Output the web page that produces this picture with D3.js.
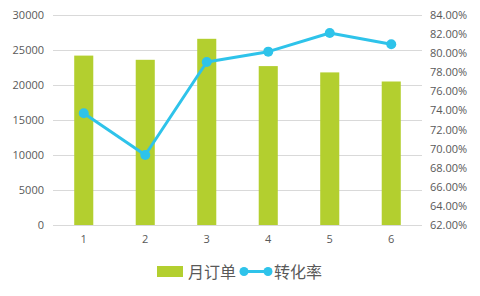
<!DOCTYPE html>
<html>
<head>
<meta charset="utf-8">
<script src="https://cdn.jsdelivr.net/npm/d3@7"></script>
<style>
  body { margin: 0; background: #fff; }
  text { font-family: "Open Sans", "Noto Sans CJK SC", sans-serif; }
</style>
</head>
<body>
<div id="chart"></div>
<script>
const months = ["1", "2", "3", "4", "5", "6"];
const orders = [24200, 23600, 26600, 22700, 21800, 20500];
const convRate = [0.737, 0.6933, 0.7908, 0.8016, 0.8211, 0.8093];
const leftTicks = [0, 5000, 10000, 15000, 20000, 25000, 30000];
const rightTicks = [0.62, 0.64, 0.66, 0.68, 0.70, 0.72, 0.74, 0.76, 0.78, 0.80, 0.82, 0.84];

const width = 480, height = 296;
const margin = { top: 15, right: 58, bottom: 71, left: 53 };

const svg = d3.select("#chart").append("svg")
  .attr("width", width)
  .attr("height", height);

const x = d3.scaleBand()
  .domain(months)
  .range([margin.left, width - margin.right]);

const y = d3.scaleLinear()
  .domain([0, 30000])
  .range([height - margin.bottom, margin.top]);

const y2 = d3.scaleLinear()
  .domain([0.62, 0.84])
  .range([height - margin.bottom, margin.top]);

// gridlines
svg.append("g")
  .selectAll("line")
  .data(leftTicks)
  .join("line")
  .attr("x1", margin.left)
  .attr("x2", width - margin.right)
  .attr("y1", d => Math.round(y(d)) + 0.5)
  .attr("y2", d => Math.round(y(d)) + 0.5)
  .attr("stroke", "#d9d9d9")
  .attr("stroke-width", 1);

// left axis
svg.append("g")
  .attr("transform", `translate(${margin.left - 9},0)`)
  .call(d3.axisLeft(y).tickValues(leftTicks).tickSize(0).tickPadding(0)
    .tickFormat(d3.format("d")))
  .call(g => g.select(".domain").remove())
  .selectAll("text")
  .attr("fill", "#595959")
  .attr("font-size", 11);

// right axis
svg.append("g")
  .attr("transform", `translate(${width - margin.right + 8},0)`)
  .call(d3.axisRight(y2).tickValues(rightTicks).tickSize(0).tickPadding(0)
    .tickFormat(d3.format(".2%")))
  .call(g => g.select(".domain").remove())
  .selectAll("text")
  .attr("fill", "#595959")
  .attr("font-size", 11);

// bottom axis
svg.append("g")
  .attr("transform", `translate(0,${height - margin.bottom + 10})`)
  .call(d3.axisBottom(x).tickSize(0).tickPadding(0))
  .call(g => g.select(".domain").remove())
  .selectAll("text")
  .attr("fill", "#595959")
  .attr("font-size", 11);

const barColor = "#b3cf2f";
const lineColor = "#2ec3ea";
const barW = x.bandwidth() * 0.31;

svg.append("g")
  .selectAll("rect")
  .data(orders)
  .join("rect")
  .attr("x", (d, i) => x(months[i]) + x.bandwidth() / 2 - barW / 2)
  .attr("y", d => y(d))
  .attr("width", barW)
  .attr("height", d => y(0) - y(d))
  .attr("fill", barColor);

const line = d3.line()
  .x((d, i) => x(months[i]) + x.bandwidth() / 2)
  .y(d => y2(d));

svg.append("path")
  .datum(convRate)
  .attr("d", line)
  .attr("fill", "none")
  .attr("stroke", lineColor)
  .attr("stroke-width", 3)
  .attr("stroke-linejoin", "round");

svg.append("g")
  .selectAll("circle")
  .data(convRate)
  .join("circle")
  .attr("cx", (d, i) => x(months[i]) + x.bandwidth() / 2)
  .attr("cy", d => y2(d))
  .attr("r", 5)
  .attr("fill", lineColor);

// legend
const lg = svg.append("g");
lg.append("rect")
  .attr("x", 157).attr("y", 266)
  .attr("width", 26).attr("height", 11)
  .attr("fill", barColor);
lg.append("text")
  .attr("x", 188).attr("y", 278)
  .attr("font-size", 16)
  .attr("fill", "#595959")
  .text("月订单");
lg.append("line")
  .attr("x1", 244).attr("x2", 268)
  .attr("y1", 271.5).attr("y2", 271.5)
  .attr("stroke", lineColor)
  .attr("stroke-width", 3);
lg.selectAll("circle")
  .data([244, 268])
  .join("circle")
  .attr("cx", d => d).attr("cy", 271.5)
  .attr("r", 4.5)
  .attr("fill", lineColor);
lg.append("text")
  .attr("x", 274).attr("y", 278)
  .attr("font-size", 16)
  .attr("fill", "#595959")
  .text("转化率");
</script>
</body>
</html>
